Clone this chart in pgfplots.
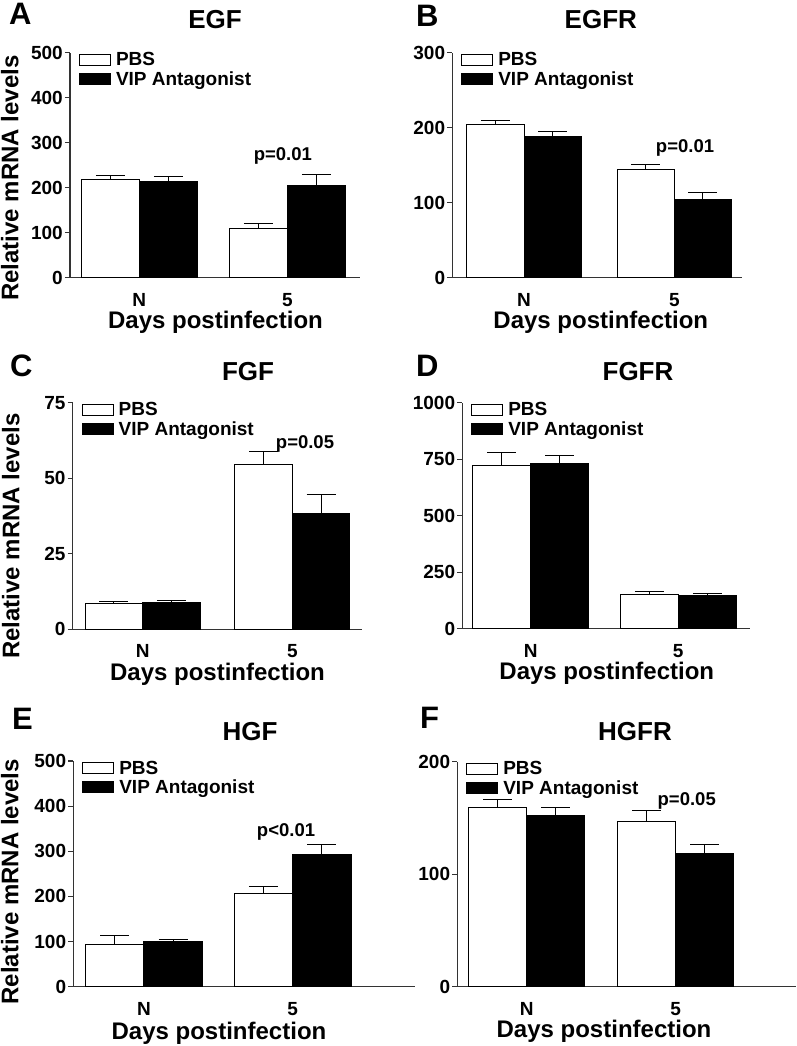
\documentclass[border=0pt]{standalone}
\usepackage{fontspec}
\setmainfont{Liberation Sans}
\usepackage{pgfplots}
\pgfplotsset{compat=1.18}

\newcommand\tickfont{\fontsize{19}{19}\selectfont\bfseries}
\newcommand\legfont{\fontsize{19}{19}\selectfont\bfseries}
\newcommand\pfont{\fontsize{18.5}{18.5}\selectfont\bfseries}
\newcommand\titfont{\fontsize{26}{26}\selectfont\bfseries}
\newcommand\labfont{\fontsize{24}{24}\selectfont\bfseries}
\newcommand\letfont{\fontsize{31}{31}\selectfont\bfseries}

\pgfplotsset{
  panel/.style={
    scale only axis,
    axis lines*=left,
    axis line style={line width=1.2pt, draw=black!80},
    ymin=0,
    xtick={0,1}, xticklabels={N,5},
    xtick style={draw=none},
    ytick style={line width=1.2pt, draw=black!80},
    tick align=outside,
    major tick length=5pt,
    /pgf/number format/assume math mode=true,
    /pgf/number format/1000 sep={},
    ticklabel style={font=\tickfont},
    yticklabel style={inner sep=2pt},
    xticklabel style={anchor=base, inner sep=0pt, yshift=-23.5pt},
    legend cell align=left,
    legend style={at={(0,1)}, anchor=north west, xshift=9pt, yshift=2pt, draw=none, fill=none,
      inner sep=0pt, outer sep=0pt, font=\legfont, row sep=0pt, column sep=3pt},
    legend image code/.code={\draw[#1, line width=1pt] (0pt,-5.5pt) rectangle (31pt,5.5pt);},
    clip=false,
  },
  errs/.style={
    error bars/y dir=plus, error bars/y explicit, error bars/error mark=|,
    error bars/error bar style={line width=1pt, black},
    error bars/error mark options={line width=1pt, black, mark size=14.5pt}},
  pbs/.style={ybar, bar shift=0pt, draw=black, fill=white, line width=1pt, errs},
  vip/.style={ybar, bar shift=0pt, draw=black, fill=black, line width=1pt, errs},
}

\begin{document}
\begin{tikzpicture}
\useasboundingbox (0,0) rectangle (797pt,-1046pt);

% ---------- A: EGF ----------
\begin{axis}[panel, at={(70pt,-277.7pt)}, anchor=south west,
  width=290pt, height=225pt, xmin=-0.468, xmax=1.491, ymax=500,
  ytick={0,100,200,300,400,500}]
\addplot[pbs, bar width=0.392] table[x=x, y=y, y error=e] {
x y e
-0.196 219 8
0.804 110 11
};
\addplot[vip, bar width=0.392] table[x=x, y=y, y error=e] {
x y e
0.196 214 11
1.196 204 26
};
\legend{PBS, VIP Antagonist}
\node[font=\pfont, anchor=base] at (axis cs:0.97,260) {p=0.01};
\end{axis}

% ---------- B: EGFR ----------
\begin{axis}[panel, at={(452.3pt,-277.7pt)}, anchor=south west,
  width=289.4pt, height=225pt, xmin=-0.477, xmax=1.448, ymax=300,
  ytick={0,100,200,300}]
\addplot[pbs, bar width=0.381] table[x=x, y=y, y error=e] {
x y e
-0.1905 204 6
0.8095 144 7
};
\addplot[vip, bar width=0.381] table[x=x, y=y, y error=e] {
x y e
0.1905 188 7
1.1905 104 10
};
\legend{PBS, VIP Antagonist}
\node[font=\pfont, anchor=base] at (axis cs:1.071,166.7) {p=0.01};
\end{axis}

% ---------- C: FGF ----------
\begin{axis}[panel, at={(72.7pt,-629.3pt)}, anchor=south west,
  width=289pt, height=226.6pt, xmin=-0.468, xmax=1.464, ymax=75,
  ytick={0,25,50,75}]
\addplot[pbs, bar width=0.384] table[x=x, y=y, y error=e] {
x y e
-0.192 8.6 0.6
0.808 54.6 4.1
};
\addplot[vip, bar width=0.384] table[x=x, y=y, y error=e] {
x y e
0.192 8.8 0.7
1.192 38.2 6.5
};
\legend{PBS, VIP Antagonist}
\node[font=\pfont, anchor=base] at (axis cs:1.085,59.9) {p=0.05};
\end{axis}

% ---------- D: FGFR ----------
\begin{axis}[panel, at={(462.3pt,-628.7pt)}, anchor=south west,
  width=287.7pt, height=226pt, xmin=-0.463, xmax=1.486, ymax=1000,
  ytick={0,250,500,750,1000}]
\addplot[pbs, bar width=0.393] table[x=x, y=y, y error=e] {
x y e
-0.1965 724 56
0.8035 152 11
};
\addplot[vip, bar width=0.393] table[x=x, y=y, y error=e] {
x y e
0.1965 733 32
1.1965 146 9
};
\legend{PBS, VIP Antagonist}
\end{axis}

% ---------- E: HGF ----------
\begin{axis}[panel, at={(73.3pt,-986.7pt)}, anchor=south west,
  width=341.7pt, height=225.7pt, xmin=-0.475, xmax=1.822, ymax=500,
  ytick={0,100,200,300,400,500}]
\addplot[pbs, bar width=0.393] table[x=x, y=y, y error=e] {
x y e
-0.1965 94 19
0.8035 207 15
};
\addplot[vip, bar width=0.393] table[x=x, y=y, y error=e] {
x y e
0.1965 100 5
1.1965 294 21
};
\legend{PBS, VIP Antagonist}
\node[font=\pfont, anchor=base] at (axis cs:0.955,332) {p<0.01};
\end{axis}

% ---------- F: HGFR ----------
\begin{axis}[panel, at={(457.3pt,-986.7pt)}, anchor=south west,
  width=338.7pt, height=225pt, xmin=-0.465, xmax=1.807, ymax=200,
  ytick={0,100,200}]
\addplot[pbs, bar width=0.39] table[x=x, y=y, y error=e] {
x y e
-0.195 159 7
0.805 147 10
};
\addplot[vip, bar width=0.39] table[x=x, y=y, y error=e] {
x y e
0.195 152 7
1.195 118 8
};
\legend{PBS, VIP Antagonist}
\node[font=\pfont, anchor=base] at (axis cs:1.074,161.5) {p=0.05};
\end{axis}

% ---------- titles ----------
\node[font=\titfont, anchor=base] at (215pt,-28.5pt) {EGF};
\node[font=\titfont, anchor=base] at (600.8pt,-29pt) {EGFR};
\node[font=\titfont, anchor=base] at (248pt,-380.7pt) {FGF};
\node[font=\titfont, anchor=base] at (638pt,-380.7pt) {FGFR};
\node[font=\titfont, anchor=base] at (250pt,-740pt) {HGF};
\node[font=\titfont, anchor=base] at (635pt,-740pt) {HGFR};

% ---------- panel letters ----------
\node[font=\letfont, anchor=base west, inner sep=0pt] at (9pt,-25pt) {A};
\node[font=\letfont, anchor=base west, inner sep=0pt] at (416pt,-26.7pt) {B};
\node[font=\letfont, anchor=base west, inner sep=0pt] at (10pt,-376.7pt) {C};
\node[font=\letfont, anchor=base west, inner sep=0pt] at (416pt,-376.7pt) {D};
\node[font=\letfont, anchor=base west, inner sep=0pt] at (12pt,-729.3pt) {E};
\node[font=\letfont, anchor=base west, inner sep=0pt] at (420pt,-728.3pt) {F};

% ---------- y labels ----------
\node[font=\labfont, anchor=base, rotate=90, inner sep=0pt] at (18.3pt,-178pt) {Relative mRNA levels};
\node[font=\labfont, anchor=base, rotate=90, inner sep=0pt] at (19.3pt,-536pt) {Relative mRNA levels};
\node[font=\labfont, anchor=base, rotate=90, inner sep=0pt] at (18.3pt,-881.7pt) {Relative mRNA levels};

% ---------- x labels ----------
\node[font=\labfont, anchor=base, inner sep=0pt] at (215.5pt,-328pt) {Days postinfection};
\node[font=\labfont, anchor=base, inner sep=0pt] at (600.8pt,-328pt) {Days postinfection};
\node[font=\labfont, anchor=base, inner sep=0pt] at (217.5pt,-680pt) {Days postinfection};
\node[font=\labfont, anchor=base, inner sep=0pt] at (606.8pt,-679.3pt) {Days postinfection};
\node[font=\labfont, anchor=base, inner sep=0pt] at (219pt,-1039pt) {Days postinfection};
\node[font=\labfont, anchor=base, inner sep=0pt] at (604pt,-1037pt) {Days postinfection};
\end{tikzpicture}
\end{document}
